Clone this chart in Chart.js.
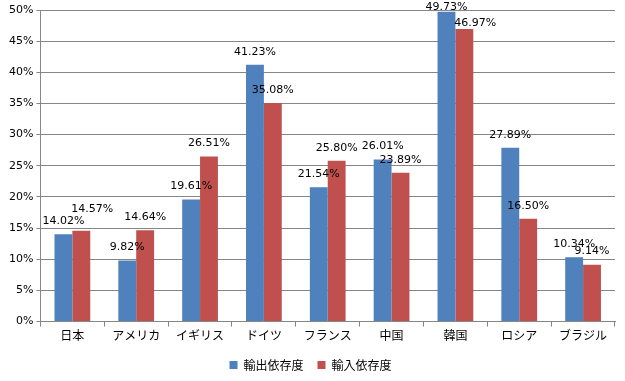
<!DOCTYPE html>
<html><head><meta charset="utf-8">
<script src="https://cdn.jsdelivr.net/npm/chart.js@4"></script>
<style>html,body{margin:0;padding:0;background:#fff}#w{width:625px;height:381px}</style>
</head><body><div id="w"><canvas id="c"></canvas></div>
<script>
const categories = ['日本','アメリカ','イギリス','ドイツ','フランス','中国','韓国','ロシア','ブラジル'];
const exportDep = [14.02, 9.82, 19.61, 41.23, 21.54, 26.01, 49.73, 27.89, 10.34];
const importDep = [14.57, 14.64, 26.51, 35.08, 25.80, 23.89, 46.97, 16.50, 9.14];
const seriesNames = ['輸出依存度','輸入依存度'];
const yTicks = [0,5,10,15,20,25,30,35,40,45,50];

// value labels above bars, with a simple collision-avoidance rule
const labelPlugin = {
  id:'valLabels',
  afterDatasetsDraw(chart){
    const ctx = chart.ctx;
    ctx.save();
    ctx.font = '11px "DejaVu Sans", Verdana, sans-serif';
    ctx.fillStyle = '#000';
    ctx.textAlign = 'center';
    ctx.textBaseline = 'middle';
    const m0 = chart.getDatasetMeta(0).data, m1 = chart.getDatasetMeta(1).data;
    const d0 = chart.data.datasets[0].data, d1 = chart.data.datasets[1].data;
    m0.forEach((b0,j)=>{
      const b1 = m1[j];
      const y0 = Math.max(b0.y-13, 7);
      let x1 = b1.x, y1 = b1.y-13;
      if (Math.abs(y1-y0) < 12) {
        if (y1 <= y0) { y1 = y0-12; x1 += 11; }
        else if (y0+16 <= b1.y-5) { y1 = y0+16; x1 += 11; }
      }
      ctx.fillText(d0[j].toFixed(2)+'%', b0.x, y0);
      ctx.fillText(d1[j].toFixed(2)+'%', x1, y1);
    });
    ctx.restore();
  }
};

new Chart(document.getElementById('c'),{
  type:'bar',
  data:{labels:categories,datasets:[
    {label:seriesNames[0],data:exportDep,backgroundColor:'#4F81BD',categoryPercentage:0.56,barPercentage:1},
    {label:seriesNames[1],data:importDep,backgroundColor:'#C0504D',categoryPercentage:0.56,barPercentage:1}
  ]},
  options:{
    responsive:true,maintainAspectRatio:false,animation:false,
    layout:{padding:{top:10,right:10,left:6,bottom:0}},
    plugins:{
      legend:{position:'bottom',labels:{boxWidth:8,boxHeight:8,font:{family:'"Noto Sans CJK JP"',size:12},color:'#000',padding:14}},
      tooltip:{enabled:false}
    },
    scales:{
      x:{grid:{offset:true,drawOnChartArea:false,drawTicks:true,tickLength:5,color:'#868686'},
         border:{color:'#868686'},
         ticks:{font:{family:'"Noto Sans CJK JP"',size:12},color:'#000',padding:2}},
      y:{min:0,max:50,
         afterBuildTicks(s){s.ticks=yTicks.map(v=>({value:v}));},
         grid:{color:'#868686',tickLength:4},
         border:{color:'#868686'},
         ticks:{callback:v=>v+'%',font:{family:'"DejaVu Sans", Verdana',size:11},color:'#000',padding:3}}
    }
  },
  plugins:[labelPlugin]
});
</script></body></html>
